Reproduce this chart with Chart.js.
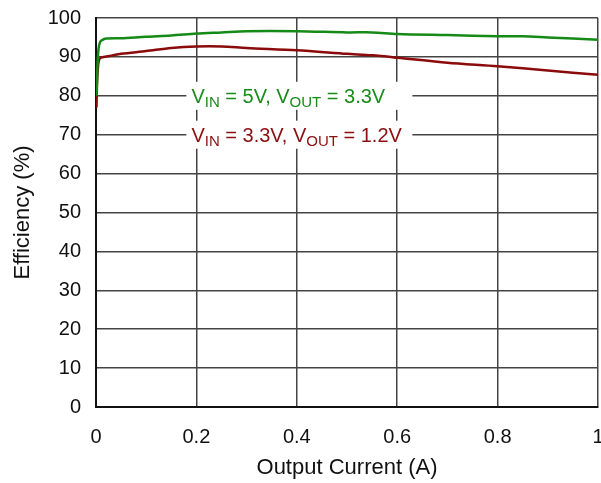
<!DOCTYPE html>
<html>
<head>
<meta charset="utf-8">
<script src="https://cdn.jsdelivr.net/npm/chart.js@4/dist/chart.umd.min.js"></script>
<style>
  body { margin: 0; background: #fff; }
  #wrap { width: 601px; height: 483px; }
</style>
</head>
<body>
<div id="wrap"><canvas id="myChart" width="601" height="483"></canvas></div>
<script>
var greenX = [0.001, 0.003, 0.005, 0.008, 0.012, 0.02, 0.05, 0.1, 0.15, 0.2, 0.25, 0.3, 0.4, 0.5, 0.55, 0.6, 0.7, 0.8, 0.85, 0.9, 1.0];
var greenY = [80, 88, 92, 93.8, 94.3, 94.7, 94.8, 95.2, 95.5, 96.0, 96.3, 96.6, 96.6, 96.3, 96.3, 95.9, 95.6, 95.3, 95.3, 95.0, 94.4];
var redX = [0.001, 0.002, 0.004, 0.006, 0.01, 0.03, 0.05, 0.1, 0.15, 0.2, 0.25, 0.3, 0.4, 0.5, 0.55, 0.6, 0.7, 0.8, 0.9, 1.0];
var redY = [77, 83, 87.5, 89.2, 89.8, 90.3, 90.8, 91.5, 92.3, 92.7, 92.7, 92.3, 91.7, 90.8, 90.4, 89.8, 88.5, 87.6, 86.5, 85.4];
var xTicks = [0, 0.2, 0.4, 0.6, 0.8, 1];
var yTicks = [0, 10, 20, 30, 40, 50, 60, 70, 80, 90, 100];

function pts(xs, ys) {
  var out = [];
  for (var i = 0; i < xs.length; i++) out.push({ x: xs[i], y: ys[i] });
  return out;
}

// labels: [x, y, colour, pieces]
var notes = [
  [0.19, 80, "#1a8c1a", [["V", 0], ["IN", 1], [" = 5V, V", 0], ["OUT", 1], [" = 3.3V", 0]]],
  [0.19, 70, "#8b1010", [["V", 0], ["IN", 1], [" = 3.3V, V", 0], ["OUT", 1], [" = 1.2V", 0]]]
];

var notePlugin = {
  id: "notes",
  afterDatasetsDraw: function (chart) {
    var ctx = chart.ctx;
    var xs = chart.scales.x, ys = chart.scales.y;
    ctx.save();
    notes.forEach(function (n) {
      var px = xs.getPixelForValue(n[0]);
      var py = ys.getPixelForValue(n[1]);
      ctx.fillStyle = "#fff";
      ctx.fillRect(px - 5, py - 14, 226, 28);
      var cx = px;
      n[3].forEach(function (p) {
        ctx.font = p[1] ? "15px 'Liberation Sans', Arial" : "20px 'Liberation Sans', Arial";
        ctx.fillStyle = n[2];
        ctx.textBaseline = "alphabetic";
        ctx.fillText(p[0], cx, p[1] ? py + 11 : py + 7);
        cx += ctx.measureText(p[0]).width;
      });
    });
    ctx.restore();
  }
};

var ctx = document.getElementById("myChart").getContext("2d");
var myChart = new Chart(ctx, {
  type: "scatter",
  data: {
    datasets: [
      { data: pts(greenX, greenY), showLine: true, borderColor: "#168a16", borderWidth: 2.5, pointRadius: 0, tension: 0.3 },
      { data: pts(redX, redY), showLine: true, borderColor: "#8b0a0a", borderWidth: 2.5, pointRadius: 0, tension: 0.3 }
    ]
  },
  options: {
    responsive: false,
    animation: false,
    layout: { padding: { top: 18, right: 3, left: 2, bottom: 2 } },
    plugins: { legend: { display: false }, tooltip: { enabled: false } },
    scales: {
      x: {
        type: "linear", min: 0, max: 1,
        afterBuildTicks: function (a) { a.ticks = xTicks.map(function (v) { return { value: v }; }); },
        afterFit: function (a) { a.paddingRight = 0; a.paddingLeft = 0; a.height = 74; },
        grid: { color: "#444", lineWidth: 1.5, drawTicks: false },
        border: { color: "#111", width: 2 },
        ticks: { color: "#111", font: { family: "'Liberation Sans', Arial", size: 20 }, padding: 18, callback: function (v) { return String(v); } },
        title: { display: true, text: "Output Current (A)", color: "#111", font: { family: "'Liberation Sans', Arial", size: 22 }, padding: { top: 0, bottom: 0 } }
      },
      y: {
        min: 0, max: 100,
        afterBuildTicks: function (a) { a.ticks = yTicks.map(function (v) { return { value: v }; }); },
        afterFit: function (a) { a.paddingTop = 0; a.paddingBottom = 0; a.width = 94; },
        grid: { color: "#444", lineWidth: 1.5, drawTicks: false },
        border: { color: "#111", width: 2 },
        ticks: { color: "#111", font: { family: "'Liberation Sans', Arial", size: 20 }, padding: 15 },
        title: { display: true, text: "Efficiency (%)", color: "#111", font: { family: "'Liberation Sans', Arial", size: 22 }, padding: { top: 8, bottom: 0 } }
      }
    }
  },
  plugins: [notePlugin]
});
</script>
</body>
</html>
